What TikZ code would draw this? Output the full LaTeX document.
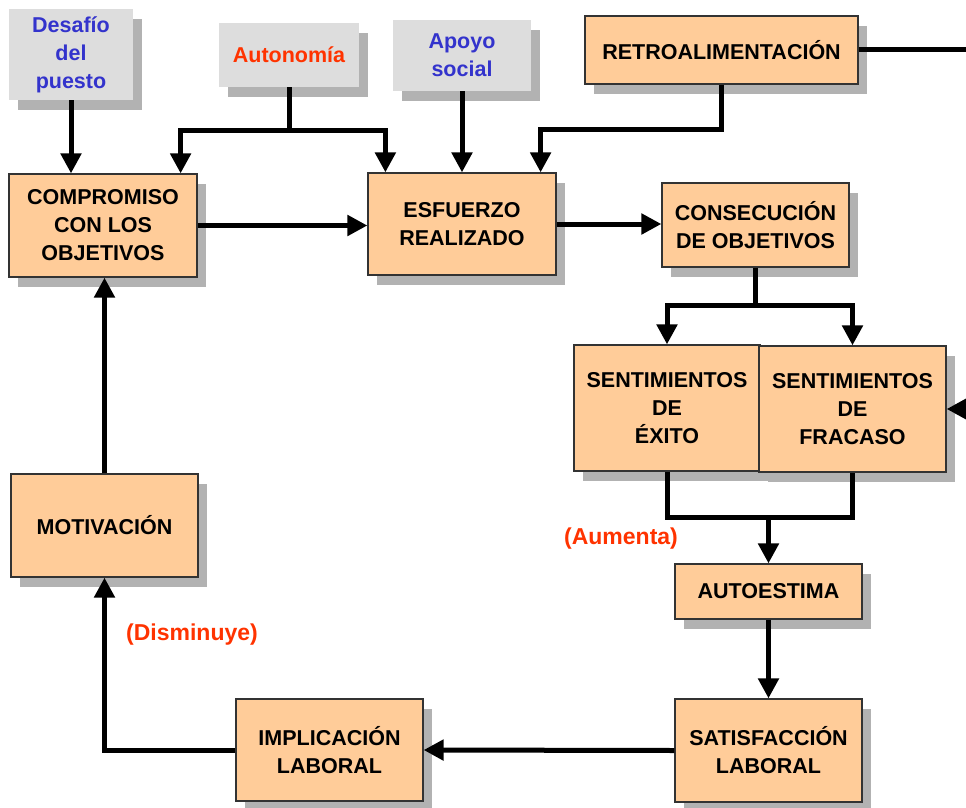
\documentclass[tikz,border=0pt]{standalone}
\usepackage{fontspec}
\setmainfont{Liberation Sans}
\usetikzlibrary{arrows.meta,shadows,calc}
\definecolor{boxfill}{HTML}{FFCC99}
\definecolor{tagfill}{HTML}{DDDDDD}
\definecolor{shade}{HTML}{B2B2B2}
\definecolor{edgecol}{HTML}{333333}
\definecolor{inkblue}{HTML}{3333CC}
\definecolor{inkred}{HTML}{FF3300}

\begin{document}
\begin{tikzpicture}[x=1pt,y=-1pt,
  base/.style={rectangle, inner sep=0pt, align=center,
    font=\fontsize{21.5}{28}\selectfont\bfseries,
    general shadow={fill=shade, shadow xshift=9pt, shadow yshift=-10pt}},
  stage/.style={base, fill=boxfill, draw=edgecol, line width=1.2pt},
  factor/.style={base, fill=tagfill},
  wire/.style={line width=5pt},
  arr/.style={wire, -{Triangle[length=20pt,width=20pt]}},
  note/.style={font=\fontsize{23}{28}\selectfont\bfseries, text=inkred}
]
\useasboundingbox (0,0) rectangle (966,808);

% external factors
\node[factor, text=inkblue, minimum width=124pt, minimum height=91pt] (desafio) at (71,54.5) {Desafío\\del\\puesto};
\node[factor, text=inkred, minimum width=140pt, minimum height=64pt] (auto) at (289,55) {Autonomía};
\node[factor, text=inkblue, minimum width=138pt, minimum height=71pt] (apoyo) at (462,55.5) {Apoyo\\social};
\node[stage, minimum width=273pt, minimum height=68pt] (retro) at (721.5,50) {RETROALIMENTACIÓN};

% main cycle
\node[stage, minimum width=188pt, minimum height=103pt] (comp) at (103,225.5) {COMPROMISO\\CON LOS\\OBJETIVOS};
\node[stage, minimum width=188pt, minimum height=102pt] (esf) at (462,224) {ESFUERZO\\REALIZADO};
\node[stage, minimum width=187pt, minimum height=84pt] (cons) at (755.5,225) {CONSECUCIÓN\\DE OBJETIVOS};
\node[stage, minimum width=186pt, minimum height=126pt] (exito) at (667,408) {SENTIMIENTOS\\DE\\ÉXITO};
\node[stage, minimum width=187pt, minimum height=126pt] (fracaso) at (852.5,409) {SENTIMIENTOS\\DE\\FRACASO};
\node[stage, minimum width=187pt, minimum height=55pt] (autoest) at (768.5,591.5) {AUTOESTIMA};
\node[stage, minimum width=187pt, minimum height=103pt] (satis) at (768.5,750.5) {SATISFACCIÓN\\LABORAL};
\node[stage, minimum width=187pt, minimum height=102pt] (impl) at (329.5,750) {IMPLICACIÓN\\LABORAL};
\node[stage, minimum width=187pt, minimum height=103pt] (motiv) at (104.5,525.5) {MOTIVACIÓN};

% annotations
\node[note] (aumenta) at (621,539) {(Aumenta)};
\node[note] (disminuye) at (192,635) {(Disminuye)};

% free ends at the right border
\coordinate (retroout) at (966,50);
\coordinate (fracin) at (966,409);

% connectors
\draw[arr] (desafio.south) -- (desafio.south |- comp.north);
\draw[wire] (auto.south) -- ++(0,43) coordinate (am);
\draw[arr] (am) -| ([xshift=-17pt]comp.north east);
\draw[arr] (am) -| ([xshift=18pt]esf.north west);
\draw[arr] (apoyo.south) -- (apoyo.south |- esf.north);
\draw[arr] (retro.south) -- ++(0,45) -| ([xshift=-16pt]esf.north east);
\draw[wire] (retro.east) -- (retroout);

\draw[arr] (comp.east) -- (comp.east -| esf.west);
\draw[arr] (esf.east) -- (esf.east -| cons.west);
\draw[wire] (cons.south) -- ++(0,38) coordinate (cm);
\draw[arr] (cm) -| (exito.north);
\draw[arr] (cm) -| (fracaso.north);
\draw[arr] (fracin) -- (fracaso.east);

\coordinate (jn) at ($(exito.south)+(0,46)$);
\draw[wire] (exito.south) -- (jn) -| (fracaso.south);
\draw[arr] (jn -| autoest.north) -- (autoest.north);
\draw[arr] (autoest.south) -- (satis.north);
\draw[arr] (satis.west) -- (impl.east);
\draw[arr] (impl.west) -| (motiv.south);
\draw[arr] (motiv.north) -- (motiv.north |- comp.south);
\end{tikzpicture}
\end{document}
